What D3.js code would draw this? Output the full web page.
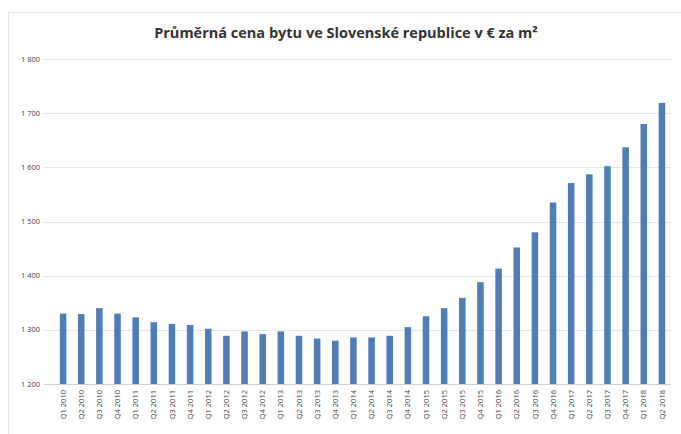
<!DOCTYPE html>
<html>
<head>
<meta charset="UTF-8">
<title>Průměrná cena bytu</title>
<script src="https://cdn.jsdelivr.net/npm/d3@7"></script>
<style>
  body { margin: 0; background: #fff; }
  svg { font-family: "Open Sans", "Liberation Sans", sans-serif; }
</style>
</head>
<body>
<div id="chart"></div>
<script>
// quarters Q1 2010 .. Q2 2018
var years = ["2010", "2011", "2012", "2013", "2014", "2015", "2016", "2017", "2018"];
var quarters = [];
years.forEach(function(y) {
  ["Q1", "Q2", "Q3", "Q4"].forEach(function(q) {
    if (y === "2018" && (q === "Q3" || q === "Q4")) return;
    quarters.push(q + " " + y);
  });
});

var prices = [1330, 1329, 1340, 1330, 1323, 1314, 1311, 1309, 1302, 1289,
              1297, 1292, 1297, 1289, 1284, 1280, 1286, 1286, 1289, 1305,
              1325, 1340, 1359, 1388, 1413, 1452, 1480, 1535, 1571, 1587,
              1602, 1637, 1680, 1719];

var yTicks = [1200, 1300, 1400, 1500, 1600, 1700, 1800];

var title = "Průměrná cena bytu ve Slovenské republice v € za m²";

var W = 681, H = 434,
    margin = {top: 59, right: 10, bottom: 50, left: 54};

var svg = d3.select("#chart").append("svg")
    .attr("width", W)
    .attr("height", H);

// chart frame
svg.append("rect")
    .attr("x", 8.5).attr("y", 12.5)
    .attr("width", W).attr("height", H)
    .attr("fill", "none")
    .attr("stroke", "#e3e3e3");

var x = d3.scaleBand()
    .domain(quarters)
    .range([margin.left, W - margin.right])
    .paddingInner(0.64)
    .paddingOuter(0.32);

var y = d3.scaleLinear()
    .domain([1200, 1800])
    .range([H - margin.bottom, margin.top]);

var fmt = d3.formatLocale({decimal: ",", thousands: " ", grouping: [3], currency: ["", " €"]}).format(",d");

// gridlines
svg.append("g")
    .selectAll("line")
    .data(yTicks)
    .enter().append("line")
    .attr("x1", margin.left - 10)
    .attr("x2", W - margin.right)
    .attr("y1", function(d) { return Math.round(y(d)) + 0.5; })
    .attr("y2", function(d) { return Math.round(y(d)) + 0.5; })
    .attr("stroke", function(d) { return d === 1200 ? "#d0d0d0" : "#e6e6e6"; })
    .attr("stroke-width", 1);

// y axis labels
svg.append("g")
    .selectAll("text")
    .data(yTicks)
    .enter().append("text")
    .attr("x", 40)
    .attr("y", function(d) { return y(d); })
    .attr("dy", "0.35em")
    .attr("text-anchor", "end")
    .attr("font-size", 7.5)
    .attr("fill", "#444")
    .text(function(d) { return fmt(d); });

// bars
svg.append("g")
    .selectAll("rect")
    .data(prices)
    .enter().append("rect")
    .attr("x", function(d, i) { return x(quarters[i]); })
    .attr("y", function(d) { return y(d); })
    .attr("width", x.bandwidth())
    .attr("height", function(d) { return y(1200) - y(d); })
    .attr("fill", "#4f7db5");

// x labels, rotated
svg.append("g")
    .selectAll("text")
    .data(quarters)
    .enter().append("text")
    .attr("transform", function(d) {
      return "translate(" + (x(d) + x.bandwidth() / 2) + "," + (y(1200) + 6) + ") rotate(-90)";
    })
    .attr("dy", "0.35em")
    .attr("text-anchor", "end")
    .attr("font-size", 7.5)
    .attr("fill", "#444")
    .text(function(d) { return d; });

// title
svg.append("text")
    .attr("x", 346)
    .attr("y", 38)
    .attr("text-anchor", "middle")
    .attr("font-size", 14.5)
    .attr("font-weight", "bold")
    .attr("fill", "#333")
    .text(title);
</script>
</body>
</html>
